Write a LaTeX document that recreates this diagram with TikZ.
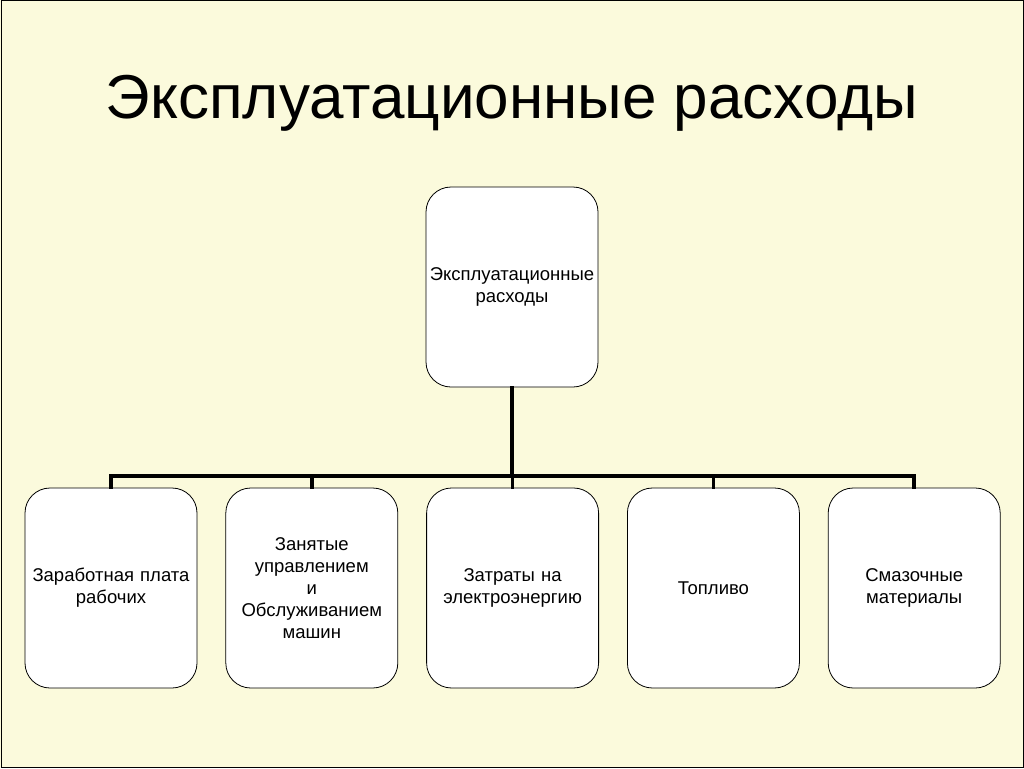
\documentclass[tikz,border=0pt]{standalone}
\usepackage{fontspec}
\setmainfont{Liberation Sans}
\usetikzlibrary{positioning}
\definecolor{paper}{HTML}{FBFADC}
\tikzset{
  box/.style={draw, thick, fill=white, rounded corners=25pt, minimum width=172pt,
    minimum height=200pt, inner sep=0pt, align=center, font=\fontsize{18.5}{22}\selectfont,
    text width=172pt},
  bus/.style={line width=3.5pt, line cap=rect}
}
\begin{document}
\begin{tikzpicture}[x=1pt, y=-1pt]
	\useasboundingbox (0,0) rectangle (1024,768);
	\fill[paper] (0,0) rectangle (1024,768);
	\draw[line width=1pt] (1,1) rectangle (1023,767);

	\node[font=\fontsize{62}{70}\selectfont](title) at (512,103) {Эксплуатационные расходы};

	\node[box](top) at (512,287) {Эксплуатационные\\расходы};

	\node[box](b1) at (111,588) {Заработная плата\\рабочих};
	\node[box, right=28pt of b1](b2) {Занятые\\управлением\\и\\Обслуживанием\\машин};
	\node[box, right=28pt of b2](b3) {Затраты на\\электроэнергию};
	\node[box, right=28pt of b3](b4) {Топливо};
	\node[box, right=28pt of b4](b5) {Смазочные\\материалы};

	\coordinate (j) at (512,476);
	\draw[bus] (top.south) -- (top.south |- j);
	\draw[bus] (b1.north) -- (b1.north |- j) -| (b5.north);
	\foreach \b in {b2,b3,b4}
		\draw[bus] (\b.north) -- (\b.north |- j);
\end{tikzpicture}
\end{document}
